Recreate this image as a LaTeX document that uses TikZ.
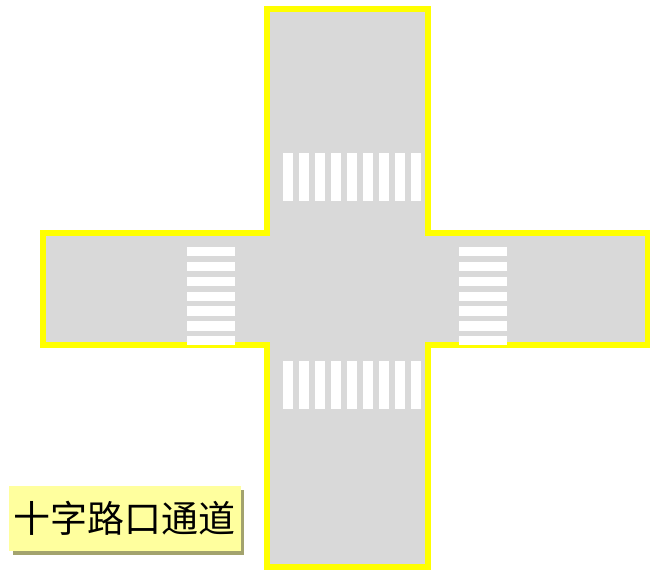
\documentclass[tikz,border=0pt]{standalone}
\usepackage{fontspec}
\newfontfamily\cjk{Noto Sans CJK SC}
\definecolor{road}{HTML}{D9D9D9}
\definecolor{edge}{HTML}{FFFF00}
\definecolor{labelbg}{HTML}{FFFF9E}
\definecolor{labelsh}{HTML}{A3A36E}
\tikzset{
  roadshape/.style={fill=road, draw=edge, line width=6pt, line join=miter},
  vstripe/.style={fill=white, draw=none},
  hstripe/.style={fill=white, draw=none},
  labelbox/.style={fill=labelbg, draw=none, minimum width=232pt, minimum height=65pt, inner sep=0pt, font=\cjk\fontsize{37}{42}\selectfont, text=black},
  labelshadow/.style={fill=labelsh, draw=none}
}
\begin{document}
\begin{tikzpicture}[x=1pt,y=-1pt]
\useasboundingbox (0,0) rectangle (650,570);
% road
\draw[roadshape] (267,9) -- (427.5,9) -- (427.5,233) -- (647.5,233) -- (647.5,345) -- (427.5,345)
  -- (427.5,567) -- (267,567) -- (267,345) -- (43,345) -- (43,233) -- (267,233) -- cycle;
% top and bottom crosswalks
\foreach \i in {0,...,8} {
  \fill[vstripe] ({282.7+16*\i},152.7) rectangle ++(10,48.3);
  \fill[vstripe] ({282.7+16*\i},361) rectangle ++(10,48);
}
% left and right crosswalks
\foreach \i in {0,...,6} {
  \fill[hstripe] (186.7,{247+14.85*\i}) rectangle ++(48.3,9.3);
  \fill[hstripe] (459,{247+14.85*\i}) rectangle ++(48,9.3);
}
% label
\fill[labelshadow] (12.5,490) rectangle (244,555);
\node[labelbox, anchor=north west] (lbl) at (8.3,486) {十字路口通道};
\end{tikzpicture}
\end{document}
